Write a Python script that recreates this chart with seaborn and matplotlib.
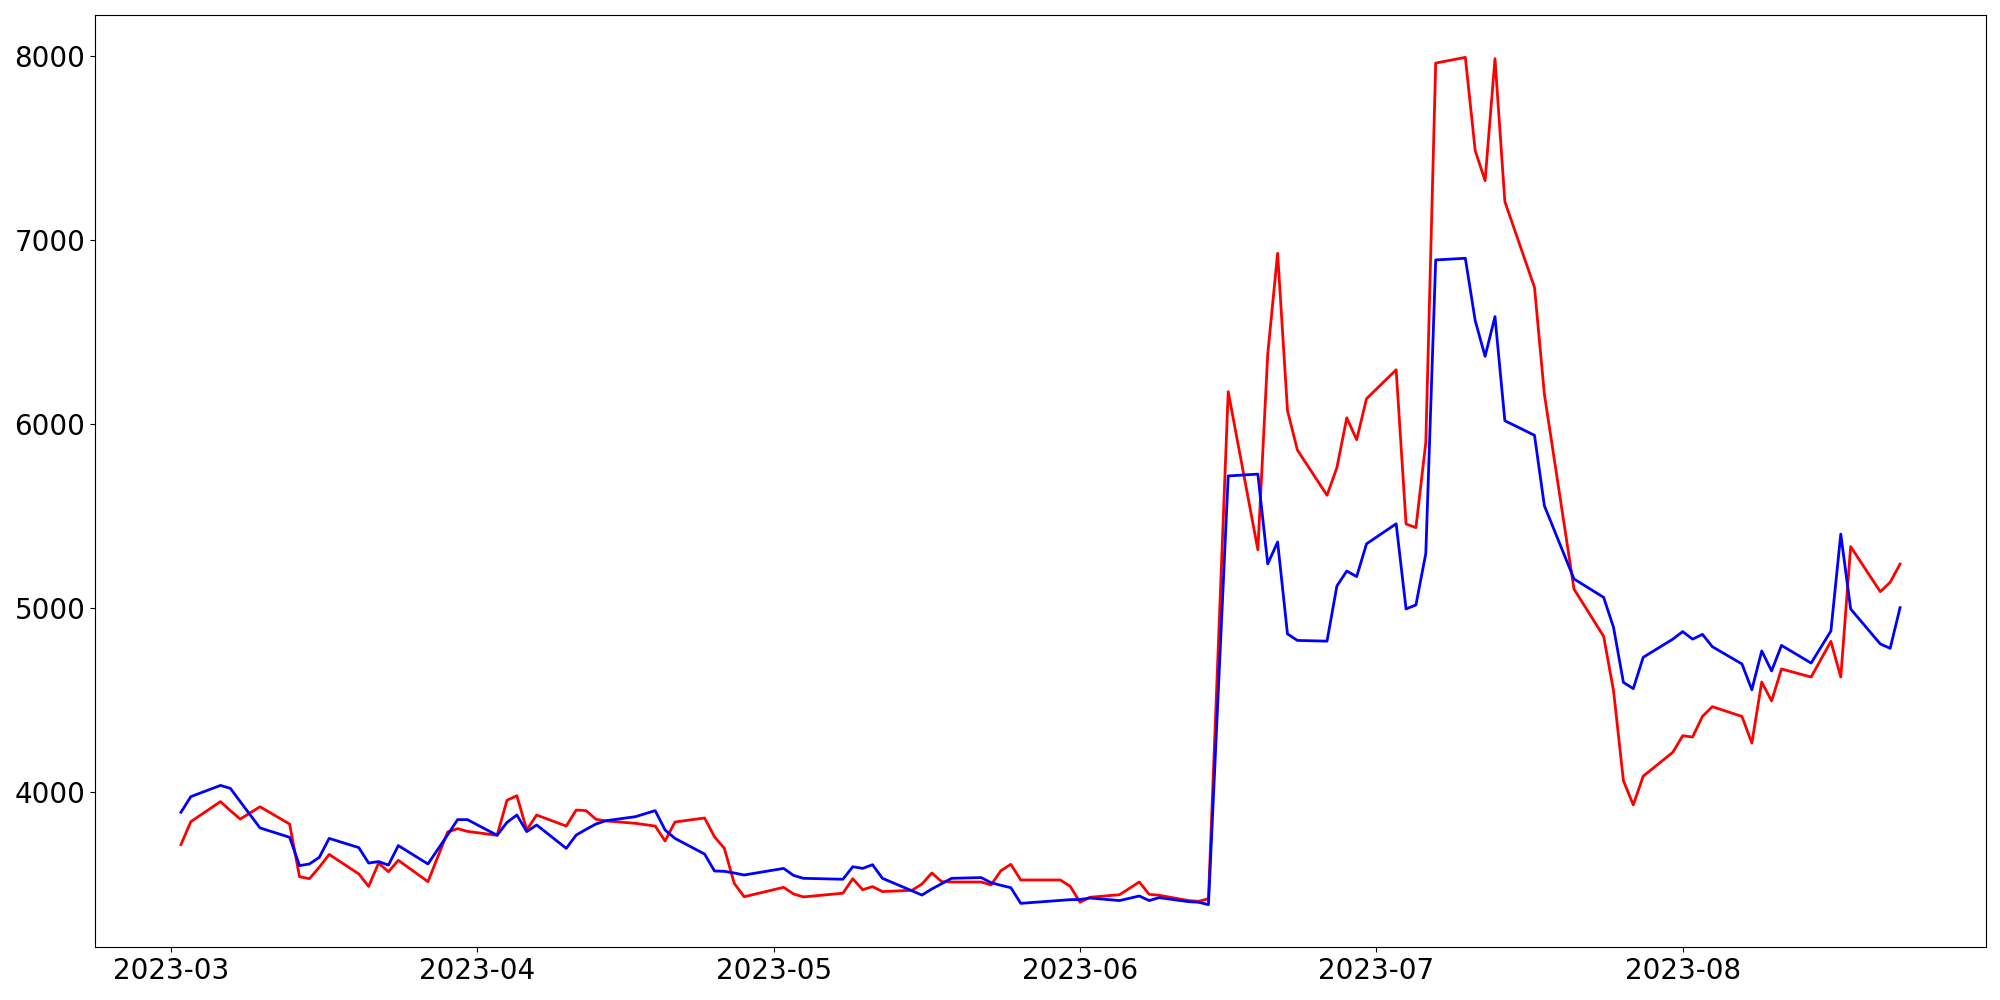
import pandas as pd
import matplotlib
matplotlib.use('Agg')
import matplotlib.pyplot as plt
import matplotlib.dates as mdates
import seaborn as sns

# dates (2023) where the two series have points
dates = [
    '03-02', '03-03', '03-06', '03-07', '03-08', '03-10', '03-13', '03-14', '03-15', '03-16',
    '03-17', '03-20', '03-21', '03-22', '03-23', '03-24', '03-27', '03-29', '03-30', '03-31',
    '04-03', '04-04', '04-05', '04-06', '04-07', '04-10', '04-11', '04-12', '04-13', '04-14',
    '04-17', '04-19', '04-20', '04-21', '04-24', '04-25', '04-26', '04-27', '04-28',
    '05-02', '05-03', '05-04', '05-08', '05-09', '05-10', '05-11', '05-12', '05-15', '05-16',
    '05-17', '05-18', '05-19', '05-22', '05-23', '05-24', '05-25', '05-26', '05-30', '05-31',
    '06-01', '06-02', '06-05', '06-07', '06-08', '06-09', '06-12', '06-13', '06-14', '06-16',
    '06-19', '06-20', '06-21', '06-22', '06-23', '06-26', '06-27', '06-28', '06-29', '06-30',
    '07-03', '07-04', '07-05', '07-06', '07-07', '07-10', '07-11', '07-12', '07-13', '07-14',
    '07-17', '07-18', '07-21', '07-24', '07-25', '07-26', '07-27', '07-28', '07-31',
    '08-01', '08-02', '08-03', '08-04', '08-07', '08-08', '08-09', '08-10', '08-11', '08-14',
    '08-16', '08-17', '08-18', '08-21', '08-22', '08-23',
]

red_values = [
    3712, 3837, 3946, 3897, 3851, 3918, 3824, 3538, 3527, 3589,
    3659, 3553, 3485, 3612, 3565, 3627, 3511, 3781, 3799, 3784,
    3763, 3953, 3978, 3792, 3873, 3813, 3900, 3897, 3850, 3841,
    3828, 3813, 3732, 3835, 3857, 3755, 3692, 3502, 3429,
    3480, 3444, 3428, 3448, 3527, 3467, 3484, 3457, 3464, 3498,
    3558, 3511, 3509, 3509, 3493, 3571, 3605, 3520, 3520, 3486,
    3399, 3426, 3440, 3509, 3442, 3437, 3408, 3404, 3418, 6174,
    5315, 6379, 6926, 6071, 5857, 5611, 5761, 6032, 5913, 6136,
    6293, 5455, 5435, 5899, 7960, 7991, 7484, 7321, 7984, 7207,
    6741, 6161, 5101, 4844, 4549, 4060, 3928, 4084, 4214,
    4304, 4297, 4409, 4462, 4409, 4264, 4596, 4493, 4667, 4623,
    4817, 4623, 5332, 5087, 5138, 5237,
]

blue_values = [
    3888, 3973, 4034, 4018, 3946, 3803, 3752, 3598, 3607, 3643,
    3746, 3696, 3612, 3620, 3601, 3707, 3607, 3766, 3848, 3848,
    3763, 3833, 3873, 3783, 3819, 3692, 3764, 3795, 3824, 3842,
    3864, 3897, 3792, 3746, 3661, 3569, 3567, 3558, 3547,
    3583, 3545, 3529, 3524, 3592, 3583, 3603, 3529, 3461, 3438,
    3471, 3500, 3529, 3533, 3505, 3491, 3478, 3393, 3409, 3413,
    3414, 3422, 3408, 3433, 3408, 3424, 3402, 3399, 3386, 5716,
    5726, 5238, 5357, 4857, 4822, 4818, 5118, 5199, 5169, 5347,
    5456, 4993, 5015, 5295, 6890, 6899, 6560, 6366, 6582, 6016,
    5937, 5554, 5156, 5056, 4893, 4594, 4560, 4730, 4829,
    4870, 4829, 4855, 4788, 4694, 4554, 4765, 4656, 4795, 4699,
    4873, 5400, 4993, 4803, 4779, 5000,
]

df = pd.DataFrame({
    'date': pd.to_datetime(['2023-' + d for d in dates]),
    'red': red_values,
    'blue': blue_values,
})

fig, ax = plt.subplots(figsize=(20, 10), dpi=100)
sns.lineplot(data=df, x='date', y='red', color='red', linewidth=2, ax=ax)
sns.lineplot(data=df, x='date', y='blue', color='blue', linewidth=2, ax=ax)

ax.set_xlabel('')
ax.set_ylabel('')
ax.xaxis.set_major_locator(mdates.MonthLocator())
ax.xaxis.set_major_formatter(mdates.DateFormatter('%Y-%m'))
ax.tick_params(axis='both', labelsize=20)

plt.subplots_adjust(left=0.0475, right=0.993, top=0.985, bottom=0.053)
plt.savefig('out.png', dpi=100)
plt.close()
